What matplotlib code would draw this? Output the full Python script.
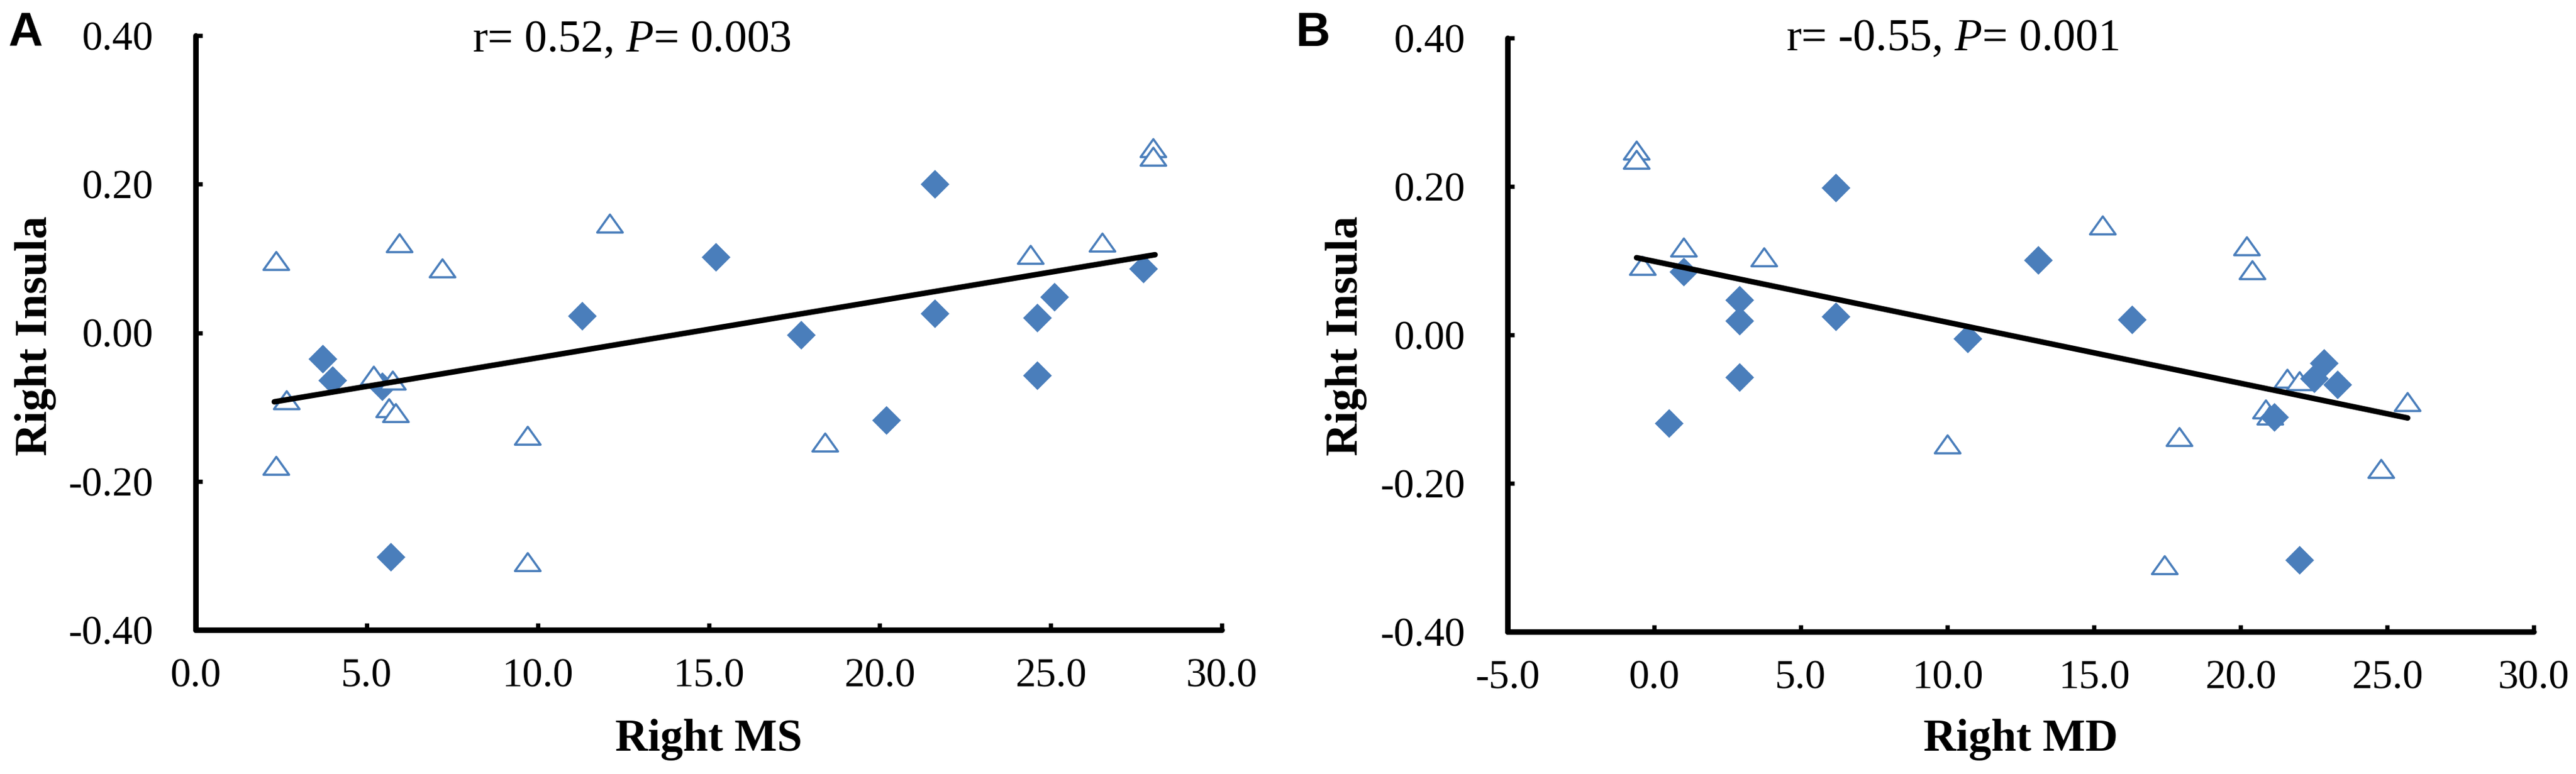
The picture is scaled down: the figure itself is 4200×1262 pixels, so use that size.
import matplotlib
matplotlib.use('Agg')
import matplotlib.pyplot as plt
from matplotlib.path import Path
from matplotlib.ticker import FixedLocator, FuncFormatter

plt.rcParams['font.family'] = ['Liberation Serif', 'DejaVu Serif']
plt.rcParams['axes.unicode_minus'] = False
plt.rcParams['mathtext.fontset'] = 'custom'
plt.rcParams['mathtext.rm'] = 'Liberation Serif'
plt.rcParams['mathtext.it'] = 'Liberation Serif:italic'

# ---------------- Panel A data (Right MS vs Right Insula) ----------------
a_tri_x = [2.35, 5.95, 7.2, 12.1, 2.65, 5.2, 5.75, 5.65, 5.85, 2.35, 9.7, 9.7, 24.4, 26.5, 28.0, 28.0, 18.4]
a_tri_y = [0.097, 0.121, 0.087, 0.147, -0.090, -0.057, -0.064, -0.101, -0.108, -0.179, -0.138, -0.308,
           0.105, 0.122, 0.249, 0.237, -0.147]
a_dia_x = [11.3, 3.72, 4.0, 5.45, 5.7, 15.2, 21.6, 17.7, 21.6, 27.7, 25.1, 24.6, 24.6, 20.2]
a_dia_y = [0.023, -0.035, -0.064, -0.072, -0.302, 0.102, 0.200, -0.003, 0.026, 0.086, 0.048, 0.020, -0.057, -0.118]
a_fit_x = [2.3, 28.05]
a_fit_y = [-0.093, 0.105]
a_xticks = [0, 5, 10, 15, 20, 25, 30]

# ---------------- Panel B data (Right MD vs Right Insula) ----------------
b_tri_x = [-0.6, -0.6, -0.4, 1.0, 3.75, 15.3, 20.2, 20.4, 21.6, 22.0, 20.85, 21.0, 17.9, 10.0, 25.7, 24.8, 17.4]
b_tri_y = [0.249, 0.236, 0.093, 0.118, 0.105, 0.148, 0.120, 0.088, -0.059, -0.062, -0.100, -0.108,
           -0.137, -0.147, -0.090, -0.180, -0.310]
b_dia_x = [1.0, 2.9, 2.9, 2.9, 6.2, 6.2, 0.5, 10.7, 13.1, 16.3, 22.85, 22.5, 23.3, 21.15, 22.0]
b_dia_y = [0.085, 0.047, 0.019, -0.057, 0.198, 0.025, -0.119, -0.005, 0.101, 0.021, -0.038, -0.059, -0.067,
           -0.111, -0.303]
b_fit_x = [-0.6, 25.7]
b_fit_y = [0.104, -0.112]
b_xticks = [-5, 0, 5, 10, 15, 20, 25, 30]

yticks = [-0.40, -0.20, 0.00, 0.20, 0.40]

BLUE = '#4A7EBB'

tri_marker = Path([(-1, -0.7), (1, -0.7), (0, 0.7), (-1, -0.7)],
                  [Path.MOVETO, Path.LINETO, Path.LINETO, Path.CLOSEPOLY])
dia_marker = Path([(0, 1), (1, 0), (0, -1), (-1, 0), (0, 1)],
                  [Path.MOVETO, Path.LINETO, Path.LINETO, Path.LINETO, Path.CLOSEPOLY])

W, H = 4200, 1262
fig = plt.figure(figsize=(W / 100, H / 100), dpi=100)


def make_panel(rect, tx, ty, dx, dy, fx, fy, xticks, xlim, tri_on_top):
    ax = fig.add_axes(rect)
    ax.set_xlim(*xlim)
    ax.set_ylim(-0.40, 0.40)
    tz, dz = (3, 2) if tri_on_top else (2, 3)
    ax.plot(dx, dy, linestyle='none', marker=dia_marker, markersize=33,
            markerfacecolor=BLUE, markeredgecolor=BLUE, markeredgewidth=0.5, zorder=dz, clip_on=False)
    ax.plot(tx, ty, linestyle='none', marker=tri_marker, markersize=30,
            markerfacecolor='white', markeredgecolor=BLUE, markeredgewidth=2.6, zorder=tz, clip_on=False)
    ax.plot(fx, fy, color='black', linewidth=6.5, solid_capstyle='round', zorder=5)
    for s in ['top', 'right']:
        ax.spines[s].set_visible(False)
    for s in ['left', 'bottom']:
        ax.spines[s].set_linewidth(6.5)
        ax.spines[s].set_color('black')
        ax.spines[s].set_capstyle('round')
    ax.xaxis.set_major_locator(FixedLocator(xticks))
    ax.yaxis.set_major_locator(FixedLocator(yticks))
    ax.xaxis.set_major_formatter(FuncFormatter(lambda v, p: f'{v:.1f}'))
    ax.yaxis.set_major_formatter(FuncFormatter(lambda v, p: f'{v:.2f}'))
    ax.tick_params(axis='both', direction='in', length=8, width=5, labelsize=48, color='black')
    ax.tick_params(axis='y', pad=50)
    ax.tick_params(axis='x', pad=33)
    ax.set_facecolor('none')
    return ax


axA = make_panel([319 / W, 1 - 1027 / H, (1992 - 319) / W, (1027 - 58) / H],
                 a_tri_x, a_tri_y, a_dia_x, a_dia_y, a_fit_x, a_fit_y, a_xticks, (0, 30), True)
axB = make_panel([2458 / W, 1 - 1030 / H, (4131 - 2458) / W, (1030 - 62) / H],
                 b_tri_x, b_tri_y, b_dia_x, b_dia_y, b_fit_x, b_fit_y, b_xticks, (-5, 30), False)

# titles
fig.text(1030 / W, 1 - 84 / H, r'r= 0.52, $\mathit{P}$= 0.003', ha='center', va='baseline', fontsize=53)
fig.text(3183 / W, 1 - 82 / H, r'r= -0.55, $\mathit{P}$= 0.001', ha='center', va='baseline', fontsize=53)

# axis labels
fig.text(1155 / W, 1 - 1224 / H, 'Right MS', ha='center', va='baseline', fontsize=53, fontweight='bold')
fig.text(3295 / W, 1 - 1224 / H, 'Right MD', ha='center', va='baseline', fontsize=53, fontweight='bold')
fig.text(58 / W, 1 - 548 / H, 'Right Insula', ha='center', va='center', rotation=90,
         fontsize=53, fontweight='bold')
fig.text(2195 / W, 1 - 548 / H, 'Right Insula', ha='center', va='center', rotation=90,
         fontsize=53, fontweight='bold')

# panel letters
fig.text(13 / W, 1 - 75 / H, 'A', ha='left', va='baseline', fontsize=56, fontweight='bold',
         family=['Liberation Sans', 'DejaVu Sans'])
fig.text(2113 / W, 1 - 75 / H, 'B', ha='left', va='baseline', fontsize=56, fontweight='bold',
         family=['Liberation Sans', 'DejaVu Sans'])

fig.savefig('out.png', dpi=100, facecolor='white')
